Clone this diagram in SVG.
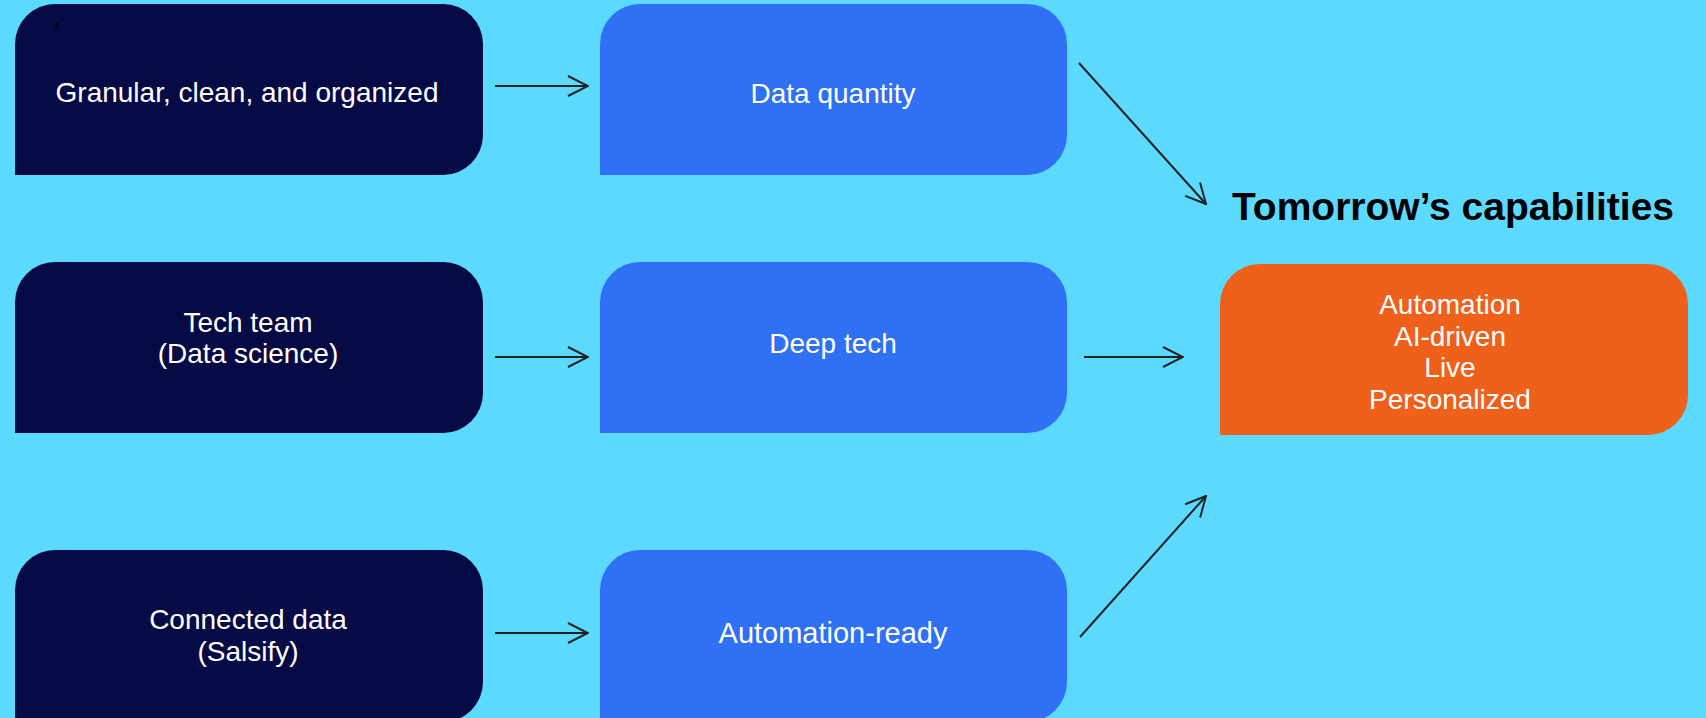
<svg xmlns="http://www.w3.org/2000/svg" width="1706" height="718" viewBox="0 0 1706 718">
<style>
.bg{fill:#5bd9ff}
.navy{fill:#060a45}
.blue{fill:#3070f5}
.orange{fill:#ef601a}
.lbl{font-family:"Liberation Sans",Arial,sans-serif;font-size:28px;fill:#ffffff;text-anchor:middle}
.title{font-family:"Liberation Sans",Arial,sans-serif;font-size:39px;font-weight:bold;fill:#000000;text-anchor:middle}
.conn{fill:none;stroke:#222222;stroke-width:2;marker-end:url(#arr)}
</style>
<defs>
<marker id="arr" viewBox="0 0 22 22" refX="21" refY="11" markerWidth="22" markerHeight="22" markerUnits="userSpaceOnUse" orient="auto">
<path d="M1,1 L21,11 L1,21" fill="none" stroke="#222222" stroke-width="2"/>
</marker>
</defs>
<rect class="bg" x="0" y="0" width="1706" height="718"/>
<g id="node-granular">
<path class="navy" d="M15,175 V44 A40,40 0 0 1 55,4 H443 A40,40 0 0 1 483,44 V135 A40,40 0 0 1 443,175 Z"/>
<text x="54" y="26" font-family="Liberation Sans,Arial,sans-serif" font-size="20" font-weight="bold" fill="#000000">,</text>
<text class="lbl" x="247" y="102">Granular, clean, and organized</text>
</g>
<g id="node-data-quantity">
<path class="blue" d="M600,175 V44 A40,40 0 0 1 640,4 H1027 A40,40 0 0 1 1067,44 V135 A40,40 0 0 1 1027,175 Z"/>
<text class="lbl" x="833" y="103">Data quantity</text>
</g>
<g id="node-tech-team">
<path class="navy" d="M15,433 V302 A40,40 0 0 1 55,262 H443 A40,40 0 0 1 483,302 V393 A40,40 0 0 1 443,433 Z"/>
<text class="lbl" x="248" y="332">Tech team</text>
<text class="lbl" x="248" y="363">(Data science)</text>
</g>
<g id="node-deep-tech">
<path class="blue" d="M600,433 V302 A40,40 0 0 1 640,262 H1027 A40,40 0 0 1 1067,302 V393 A40,40 0 0 1 1027,433 Z"/>
<text class="lbl" x="833" y="353">Deep tech</text>
</g>
<g id="node-connected-data">
<path class="navy" d="M15,722 V590 A40,40 0 0 1 55,550 H443 A40,40 0 0 1 483,590 V682 A40,40 0 0 1 443,722 Z"/>
<text class="lbl" x="248" y="629">Connected data</text>
<text class="lbl" x="248" y="661">(Salsify)</text>
</g>
<g id="node-automation-ready">
<path class="blue" d="M600,722 V590 A40,40 0 0 1 640,550 H1027 A40,40 0 0 1 1067,590 V682 A40,40 0 0 1 1027,722 Z"/>
<text class="lbl" x="833" y="643" style="font-size:29px">Automation-ready</text>
</g>
<g id="title">
<text class="title" x="1453" y="220">Tomorrow’s capabilities</text>
</g>
<g id="node-capabilities">
<path class="orange" d="M1220,435 V304 A40,40 0 0 1 1260,264 H1648 A40,40 0 0 1 1688,304 V395 A40,40 0 0 1 1648,435 Z"/>
<text class="lbl" x="1450" y="314">Automation</text>
<text class="lbl" x="1450" y="345.5">AI-driven</text>
<text class="lbl" x="1450" y="377">Live</text>
<text class="lbl" x="1450" y="408.5">Personalized</text>
</g>
<g id="connectors">
<line class="conn" x1="495" y1="86" x2="588" y2="86"/>
<line class="conn" x1="495" y1="357" x2="588" y2="357"/>
<line class="conn" x1="495" y1="633" x2="588" y2="633"/>
<line class="conn" x1="1079" y1="63" x2="1206" y2="204"/>
<line class="conn" x1="1084" y1="357" x2="1183" y2="357"/>
<line class="conn" x1="1080" y1="637" x2="1206" y2="496"/>
</g>
</svg>
